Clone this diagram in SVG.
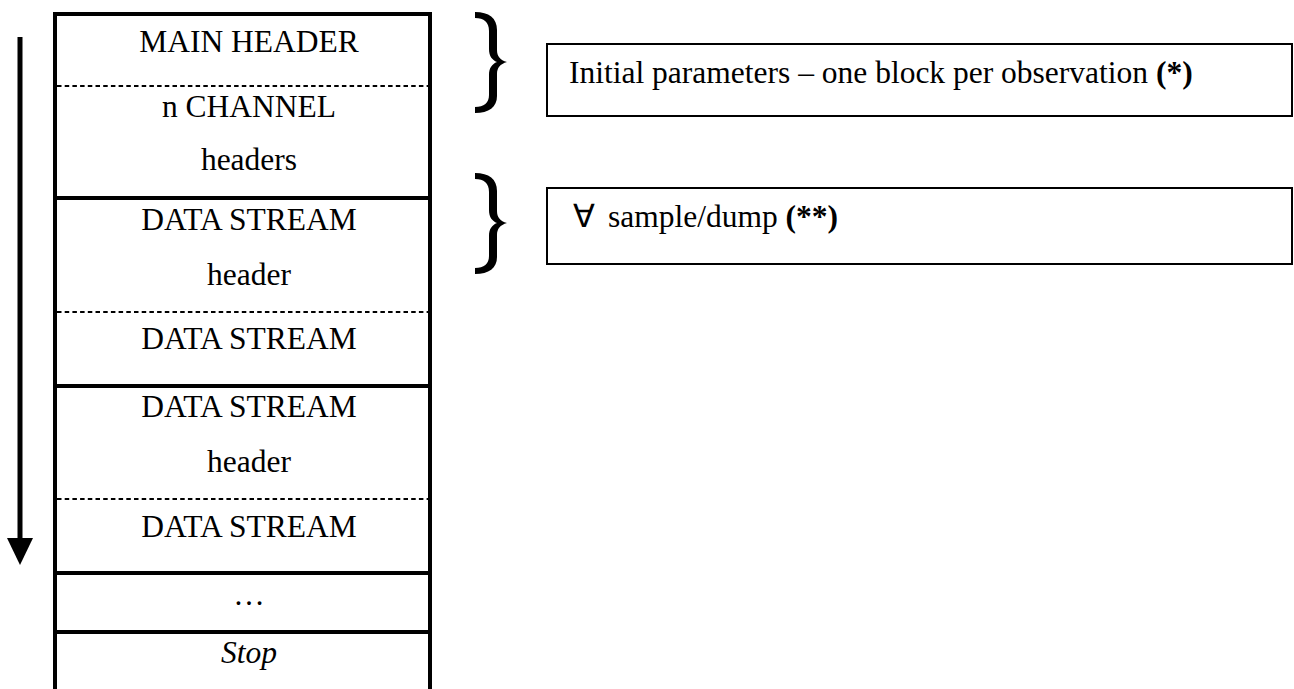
<svg xmlns="http://www.w3.org/2000/svg" width="1294" height="689" viewBox="0 0 1294 689">
  <style>
    .lbl { font-family: "Liberation Serif", "Times New Roman", serif; font-size: 31.5px; fill: #000; }
    .mid { text-anchor: middle; }
    .rule { stroke: #000; stroke-width: 4; fill: none; }
    .dash { stroke: #000; stroke-width: 1.8; stroke-dasharray: 4.5 3.2; fill: none; }
    .note { fill: #fff; stroke: #000; stroke-width: 2; }
    .brace { fill: #000; }
    .ref { font-weight: bold; }
  </style>
  <defs>
    <path id="brace" class="brace" d="M 475 12 C 489 12, 497 18, 497 30 L 497 50 C 497 56, 500 60, 507 62 C 500 64, 497 68, 497 74 L 497 96 C 497 107, 489 113, 475 113 L 475 107 C 484 107, 489 103, 489 95 L 489 75 C 489 68, 492 64, 497 62 C 492 60, 489 56, 489 49 L 489 31 C 489 22, 484 18, 475 18 Z"/>
  </defs>
  <rect width="1294" height="689" fill="#fff"/>

  <!-- record stack frame -->
  <g id="stack-frame">
    <line class="rule" x1="55" y1="12" x2="55" y2="689"/>
    <line class="rule" x1="430" y1="12" x2="430" y2="689"/>
    <line class="rule" x1="53" y1="14" x2="432" y2="14"/>
  </g>

  <g id="main-header">
    <text class="lbl mid" x="249" y="52">MAIN HEADER</text>
    <line class="dash" x1="57" y1="86" x2="428" y2="86"/>
  </g>

  <g id="channel-headers">
    <text class="lbl mid" x="249" y="117">n CHANNEL</text>
    <text class="lbl mid" x="249" y="170">headers</text>
    <line class="rule" x1="55" y1="198" x2="430" y2="198"/>
  </g>

  <g id="stream-block-1">
    <text class="lbl mid" x="249" y="230">DATA STREAM</text>
    <text class="lbl mid" x="249" y="285">header</text>
    <line class="dash" x1="57" y1="312" x2="428" y2="312"/>
    <text class="lbl mid" x="249" y="349">DATA STREAM</text>
    <line class="rule" x1="55" y1="386" x2="430" y2="386"/>
  </g>

  <g id="stream-block-2">
    <text class="lbl mid" x="249" y="417">DATA STREAM</text>
    <text class="lbl mid" x="249" y="472">header</text>
    <line class="dash" x1="57" y1="499" x2="428" y2="499"/>
    <text class="lbl mid" x="249" y="537">DATA STREAM</text>
    <line class="rule" x1="55" y1="573" x2="430" y2="573"/>
  </g>

  <g id="ellipsis-row">
    <text class="lbl mid" x="249" y="605">…</text>
    <line class="rule" x1="55" y1="632" x2="430" y2="632"/>
  </g>

  <g id="stop-row">
    <text class="lbl mid" x="249" y="663" font-style="italic">Stop</text>
  </g>

  <!-- braces grouping rows to their notes -->
  <g id="brace-initial">
    <use href="#brace"/>
  </g>
  <g id="brace-sample">
    <use href="#brace" transform="translate(0,161)"/>
  </g>

  <g id="note-initial">
    <rect class="note" x="547" y="44" width="745" height="72"/>
    <text class="lbl" x="569" y="83">Initial parameters – one block per observation <tspan class="ref">(*)</tspan></text>
  </g>

  <g id="note-sample">
    <rect class="note" x="547" y="188" width="745" height="76"/>
    <text class="lbl" x="573" y="227">∀</text>
    <text class="lbl" x="608" y="227">sample/dump <tspan class="ref">(**)</tspan></text>
  </g>

  <!-- reading direction -->
  <g id="connectors">
    <line x1="20" y1="37" x2="20" y2="540" stroke="#000" stroke-width="5"/>
    <polygon points="7,538 33,538 20,565" fill="#000"/>
  </g>
</svg>
